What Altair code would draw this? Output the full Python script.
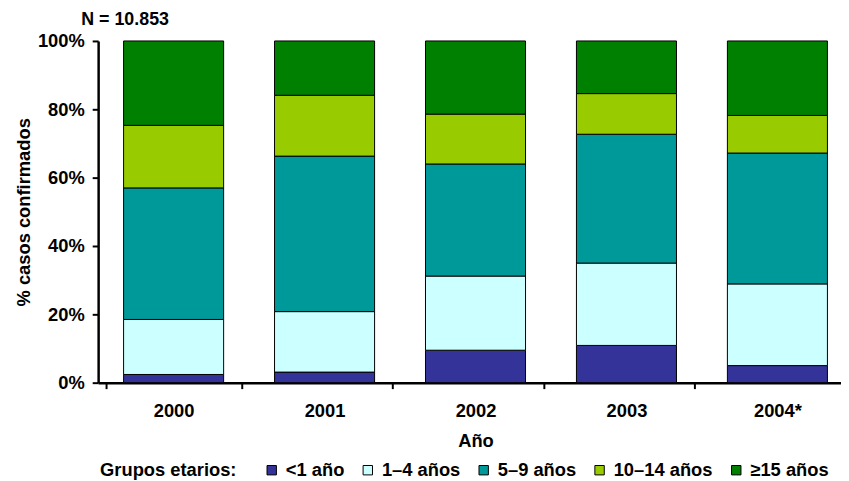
import altair as alt
import pandas as pd

years = ["2000", "2001", "2002", "2003", "2004*"]
groups = ["<1 año", "1–4 años", "5–9 años", "10–14 años", "≥15 años"]
colors = ["#333399", "#CCFFFF", "#009999", "#99CC00", "#008000"]

menor1 = [2.4, 3.1, 9.5, 10.9, 5.0]
de1a4 = [16.1, 17.7, 21.7, 24.1, 23.9]
de5a9 = [38.5, 45.5, 32.8, 37.7, 38.3]
de10a14 = [18.3, 17.8, 14.6, 11.9, 11.0]
mas15 = [24.7, 15.9, 21.4, 15.4, 21.8]

series = [menor1, de1a4, de5a9, de10a14, mas15]
rows = []
for gi, (g, vals) in enumerate(zip(groups, series)):
    for y, v in zip(years, vals):
        rows.append({"year": y, "group": g, "gi": gi, "pct": v})
df = pd.DataFrame(rows)

FONT = "Liberation Sans"
FS = 18.5

chart = alt.Chart(df).mark_bar(size=101, stroke="black", strokeWidth=1).encode(
    x=alt.X("year:N", sort=years, title="Año",
            scale=alt.Scale(range=[0, 762]),
            axis=alt.Axis(labelAngle=0, bandPosition=0, tickBand="extent",
                          domainWidth=2.5, domainColor="black", tickColor="black",
                          tickWidth=2, tickSize=6, labelPadding=13, titlePadding=12,
                          labelFontSize=FS, labelFontWeight="bold", titleFontSize=FS,
                          titleFontWeight="bold", labelColor="black", titleColor="black")),
    y=alt.Y("pct:Q", stack="normalize", title="% casos confirmados",
            scale=alt.Scale(domain=[0, 1]),
            axis=alt.Axis(values=[0, 0.2, 0.4, 0.6, 0.8, 1.0], format=".0%", grid=False,
                          domainWidth=2.5, domainColor="black", tickColor="black",
                          tickWidth=2, tickSize=6, labelPadding=8, titlePadding=4,
                          labelFontSize=FS, labelFontWeight="bold", titleFontSize=FS,
                          titleFontWeight="bold", labelColor="black", titleColor="black")),
    color=alt.Color("group:N", sort=groups,
                    scale=alt.Scale(domain=groups, range=colors),
                    legend=alt.Legend(title="Grupos etarios:", orient="none",
                                      legendX=2, legendY=424, direction="horizontal",
                                      titleOrient="left", titlePadding=26,
                                      symbolType="square", symbolSize=90,
                                      symbolStrokeColor="black", symbolStrokeWidth=1,
                                      labelFontSize=FS, labelFontWeight="bold",
                                      titleFontSize=FS, titleFontWeight="bold",
                                      labelColor="black", titleColor="black",
                                      columnPadding=14, labelOffset=5)),
    order=alt.Order("gi:Q", sort="ascending"),
).properties(
    width=750, height=345,
    autosize=alt.AutoSizeParams(type="none"),
    padding={"left": 91, "top": 31, "right": 0, "bottom": 97},
    title=alt.Title("N = 10.853", anchor="start", frame="group", dx=-17, fontSize=18,
                    fontWeight="bold", font=FONT, color="black", offset=3),
).configure(font=FONT).configure_view(stroke=None)

chart.save("out.html", embed_options={"renderer": "svg", "actions": False})
